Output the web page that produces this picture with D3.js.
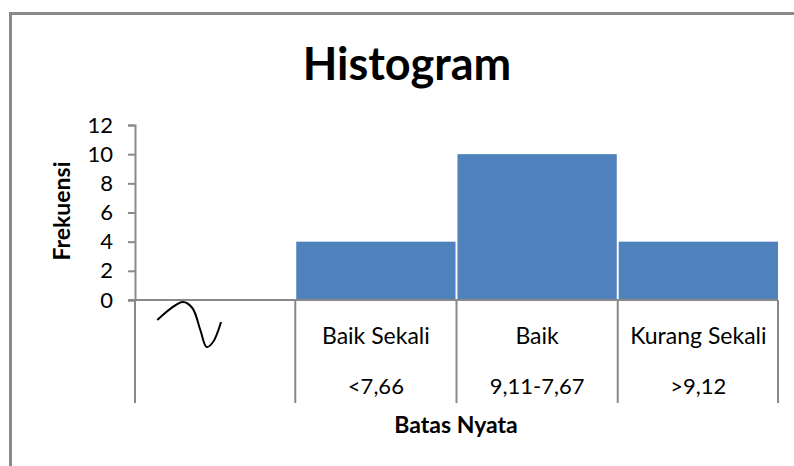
<!DOCTYPE html>
<html>
<head>
<meta charset="utf-8">
<script src="https://cdn.jsdelivr.net/npm/d3@7"></script>
<style>
  body { margin: 0; background: #fff; }
  svg { display: block; font-family: Lato, "Open Sans", sans-serif; }
</style>
</head>
<body>
<div id="chart"></div>
<script>
var categories = ["Baik Sekali", "Baik", "Kurang Sekali"];
var ranges = ["<7,66", "9,11-7,67", ">9,12"];
var frekuensi = [4, 10, 4];
var yTicks = [0, 2, 4, 6, 8, 10, 12];

var width = 794, height = 466;
var plotLeft = 135, plotRight = 778, plotTop = 125, plotBottom = 300;
var tableBottom = 403;

var svg = d3.select("#chart")
    .append("svg")
    .attr("width", width)
    .attr("height", height);

// chart frame (runs past right / bottom edge)
svg.append("rect")
    .attr("x", 10.5).attr("y", 13.5)
    .attr("width", 800).attr("height", 470)
    .attr("fill", "none")
    .attr("stroke", "#898989")
    .attr("stroke-width", 3);

// first slot stays empty for the axis break mark
var x = d3.scaleBand()
    .domain(["break"].concat(categories))
    .range([plotLeft, plotRight])
    .paddingInner(0.012)
    .paddingOuter(0);

var y = d3.scaleLinear()
    .domain([0, 12])
    .range([plotBottom, plotTop]);

svg.append("text")
    .attr("x", 407).attr("y", 80)
    .attr("text-anchor", "middle")
    .style("font-size", "45px")
    .style("font-weight", "bold")
    .text("Histogram");

// bars
svg.selectAll("rect.bar")
    .data(categories)
    .enter()
    .append("rect")
    .attr("class", "bar")
    .attr("x", function (d) { return x(d); })
    .attr("y", function (d, i) { return y(frekuensi[i]); })
    .attr("width", x.bandwidth())
    .attr("height", function (d, i) { return plotBottom - y(frekuensi[i]); })
    .attr("fill", "#4F81BD");

// y axis
var yAxis = svg.append("g")
    .attr("transform", "translate(" + plotLeft + ",0)")
    .call(d3.axisLeft(y).tickValues(yTicks).tickSize(7).tickPadding(15));
yAxis.select(".domain").attr("stroke", "#898989").attr("stroke-width", 2);
yAxis.selectAll(".tick line").attr("stroke", "#898989").attr("stroke-width", 2);
yAxis.selectAll(".tick text")
    .attr("fill", "#000")
    .style("font-size", "22px")
    .style("font-family", "Lato, 'Open Sans', sans-serif");

// x axis line + table lines
var gap = x.step() - x.bandwidth();
var edges = [plotLeft]
    .concat(categories.map(function (d) { return x(d) - gap / 2; }))
    .concat([plotRight]);

svg.append("line")
    .attr("x1", plotLeft - 7).attr("x2", plotRight)
    .attr("y1", plotBottom).attr("y2", plotBottom)
    .attr("stroke", "#898989").attr("stroke-width", 2);

svg.selectAll("line.grid")
    .data(edges)
    .enter()
    .append("line")
    .attr("class", "grid")
    .attr("x1", function (d) { return d; })
    .attr("x2", function (d) { return d; })
    .attr("y1", plotBottom)
    .attr("y2", tableBottom)
    .attr("stroke", "#898989")
    .attr("stroke-width", 2);

// category labels, two rows
svg.selectAll("text.cat")
    .data(categories)
    .enter()
    .append("text")
    .attr("class", "cat")
    .attr("x", function (d) { return x(d) + x.bandwidth() / 2; })
    .attr("y", 344)
    .attr("text-anchor", "middle")
    .style("font-size", "23px")
    .text(function (d) { return d; });

svg.selectAll("text.range")
    .data(ranges)
    .enter()
    .append("text")
    .attr("class", "range")
    .attr("x", function (d, i) { return x(categories[i]) + x.bandwidth() / 2; })
    .attr("y", 394)
    .attr("text-anchor", "middle")
    .style("font-size", "22px")
    .text(function (d) { return d; });

// axis break squiggle in the empty slot
var bx = x("break"), bw = x.bandwidth();
svg.append("path")
    .datum([[0.14, 20], [0.30, 2], [0.36, 8], [0.41, 30], [0.45, 47], [0.49, 42], [0.54, 22]])
    .attr("d", d3.line()
        .x(function (p) { return bx + p[0] * bw; })
        .y(function (p) { return plotBottom + p[1]; })
        .curve(d3.curveCatmullRom))
    .attr("fill", "none")
    .attr("stroke", "#000")
    .attr("stroke-width", 2);

// axis titles
svg.append("text")
    .attr("x", 456).attr("y", 433)
    .attr("text-anchor", "middle")
    .style("font-size", "23px")
    .style("font-weight", "bold")
    .text("Batas Nyata");

svg.append("text")
    .attr("transform", "translate(70,211) rotate(-90)")
    .attr("text-anchor", "middle")
    .style("font-size", "23px")
    .style("font-weight", "bold")
    .text("Frekuensi");
</script>
</body>
</html>
